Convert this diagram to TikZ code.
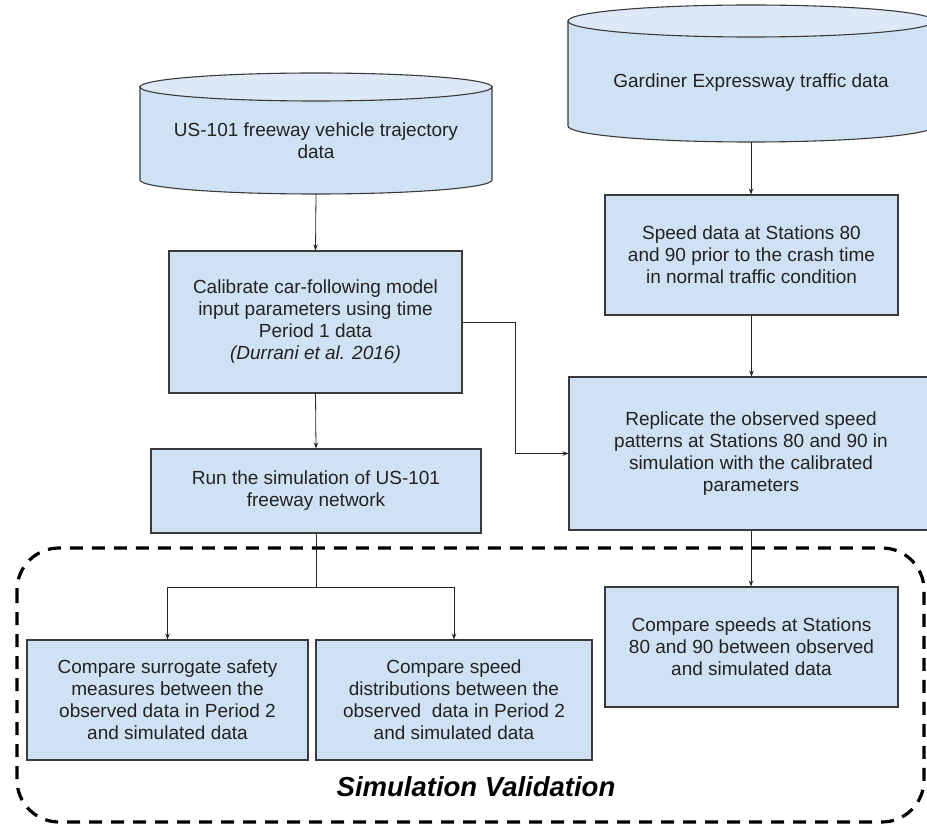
\documentclass[tikz,border=0pt]{standalone}
\usepackage{fontspec}
\setmainfont{Liberation Sans}
\usetikzlibrary{arrows.meta,calc}
\definecolor{boxfill}{HTML}{CFE2F3}
\definecolor{topfill}{HTML}{DDE9F6}
\definecolor{edge}{HTML}{3A3A3A}
\definecolor{ink}{HTML}{222222}
\begin{document}
\begin{tikzpicture}[x=1pt,y=-1pt,
  box/.style={draw=edge, line width=1.1pt, fill=boxfill},
  rbox/.style={box, inner sep=0pt, align=center, text=ink, font=\fontsize{19}{22}\selectfont},
  txt/.style={align=center, text=ink, font=\fontsize{19}{22}\selectfont, inner sep=0pt},
  link/.style={draw=black!85, line width=0.8pt},
  conn/.style={link, -{Stealth[length=6pt,width=4.5pt]}},
  border/.style={draw=black, line width=3.2pt, dash pattern=on 13pt off 9pt, rounded corners=42pt}]
\useasboundingbox (0,0) rectangle (927,826);

% dashed validation region
\draw[border] (17,548) rectangle (924,822);

% cylinder 1
\draw[box] (140,87) -- (140,180) arc[start angle=180,end angle=0,x radius=176,y radius=14] -- (492,87) -- cycle;
\draw[box, fill=topfill] (316,87) ellipse [x radius=176, y radius=14];
\node[txt] (us) at (316,141) {US-101 freeway vehicle trajectory\\data};
\coordinate (usb) at (316,194);

% cylinder 2
\draw[box] (568,21) -- (568,126) arc[start angle=180,end angle=0,x radius=183,y radius=16] -- (934,21) -- cycle;
\draw[box, fill=topfill] (751,21) ellipse [x radius=183, y radius=16];
\node[txt] (gd) at (751,83) {Gardiner Expressway traffic data};
\coordinate (gdb) at (751,142);

% boxes
\node[rbox, minimum width=293pt, minimum height=142pt] (cal) at (315.5,322)
  {Calibrate car-following model\\input parameters using time\\Period 1 data\\\textit{(Durrani et al. 2016)}};
\node[rbox, minimum width=330pt, minimum height=84pt] (run) at (316,491)
  {Run the simulation of US-101\\freeway network};
\node[rbox, minimum width=293pt, minimum height=120pt] (speed) at (751.5,255)
  {Speed data at Stations 80\\and 90 prior to the crash time\\in normal traffic condition};
\node[rbox, minimum width=364pt, minimum height=153pt] (rep) at (751,453.5)
  {Replicate the observed speed\\patterns at Stations 80 and 90 in\\simulation with the calibrated\\parameters};
\node[rbox, minimum width=281pt, minimum height=120pt] (cmpL) at (167.5,700)
  {Compare surrogate safety\\measures between the\\observed data in Period 2\\and simulated data};
\node[rbox, minimum width=276pt, minimum height=120pt] (cmpM) at (454,700)
  {Compare speed\\distributions between the\\observed\ \ data in Period 2\\and simulated data};
\node[rbox, minimum width=293pt, minimum height=120pt] (cmpR) at (751.5,647)
  {Compare speeds at Stations\\80 and 90 between observed\\and simulated data};

\node[font=\bfseries\itshape\fontsize{27.5}{33}\selectfont, inner sep=0pt] (sv) at (476,787) {Simulation Validation};

% connectors
\draw[conn] (usb) -- (cal.north);
\draw[conn] (cal.south) -- (run.north);
\draw[conn] (cal.east) -| ($(cal.east)!.5!(rep.west)$) |- (rep.west);
\draw[conn] (gdb) -- (gdb |- speed.north);
\draw[conn] (speed.south) -- (speed.south |- rep.north);
\draw[conn] (rep.south) -- (rep.south |- cmpR.north);
\coordinate (split) at (316,587);
\draw[link] (run.south) -- (split);
\draw[conn] (split) -| (cmpL.north);
\draw[conn] (split) -| (cmpM.north);
\end{tikzpicture}
\end{document}
